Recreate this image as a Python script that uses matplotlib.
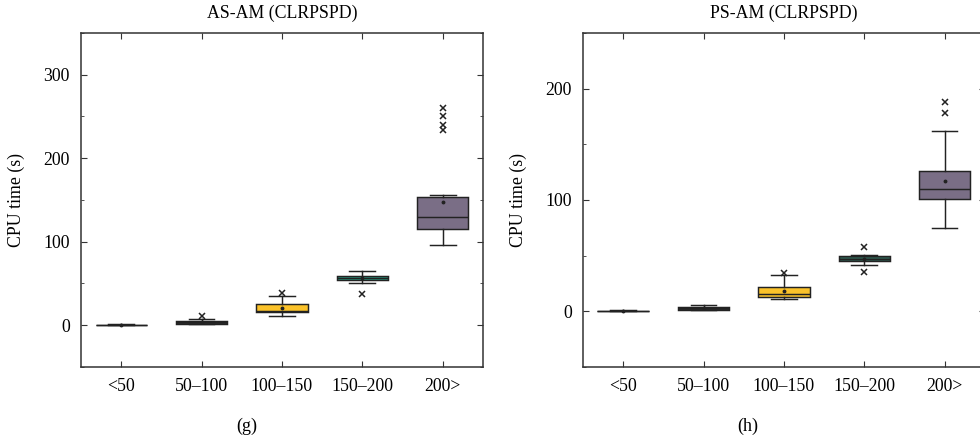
import numpy as np
import matplotlib.pyplot as plt
from matplotlib.ticker import MultipleLocator

plt.rcParams['font.family'] = ['Liberation Serif', 'DejaVu Serif']
plt.rcParams['font.size'] = 12.8

# Size classes.
categories = ['<50', '50\u2013100', '100\u2013150', '150\u2013200', '200>']

# AS-AM (CLRPSPD) box statistics.
g_med = [0.3, 3.5, 17.0, 56.0, 130.0]
g_q1 = [0.0, 2.0, 15.3, 53.8, 115.0]
g_q3 = [0.6, 4.8, 25.0, 58.5, 154.0]
g_lo = [0.0, 1.0, 11.0, 50.0, 96.0]
g_hi = [1.0, 7.0, 35.5, 65.0, 155.5]
g_mean = [0.3, 3.5, 21.0, 56.0, 148.0]
g_fliers = [[], [10.5], [38.5], [37.0], [234.0, 240.0, 250.0, 260.0]]

# PS-AM (CLRPSPD) box statistics.
h_med = [0.3, 3.0, 15.6, 47.0, 110.0]
h_q1 = [0.0, 1.5, 13.3, 45.0, 100.5]
h_q3 = [0.6, 4.0, 21.4, 49.4, 126.0]
h_lo = [0.0, 1.0, 10.8, 42.0, 75.0]
h_hi = [1.0, 6.0, 32.5, 51.0, 162.0]
h_mean = [0.3, 3.0, 18.0, 47.0, 117.0]
h_fliers = [[], [], [34.0], [35.5, 57.5], [178.0, 188.0]]

g_colors = ['#2b2b2b', '#2b2b2b', '#fbc22a', '#2a9a80', '#7a6e86']
h_colors = ['#2b2b2b', '#2b2b2b', '#fbc22a', '#2f5c50', '#7a6e86']


def make_stats(med, q1, q3, lo, hi, mean, fliers):
    stats = []
    for i in range(len(med)):
        stats.append({'med': med[i], 'q1': q1[i], 'q3': q3[i],
                      'whislo': lo[i], 'whishi': hi[i], 'mean': mean[i],
                      'fliers': np.array(fliers[i])})
    return stats


def draw_panel(ax, stats, colors, title, ylim):
    edge = '#222222'
    lw = 1.05
    bp = ax.bxp(stats, positions=range(1, 6), widths=0.64, capwidths=0.32,
                patch_artist=True, showmeans=True,
                boxprops=dict(edgecolor=edge, linewidth=lw),
                medianprops=dict(color=edge, linewidth=lw),
                whiskerprops=dict(color=edge, linewidth=lw),
                capprops=dict(color=edge, linewidth=lw),
                meanprops=dict(marker='o', markersize=1.8, markerfacecolor=edge,
                               markeredgecolor=edge),
                flierprops=dict(marker='x', markersize=5, markeredgecolor=edge,
                                markeredgewidth=1.1))
    for patch, c in zip(bp['boxes'], colors):
        patch.set_facecolor(c)
    ax.set_xlim(0.5, 5.5)
    ax.set_ylim(*ylim)
    ax.set_xticks(range(1, 6))
    ax.set_xticklabels(categories)
    ax.yaxis.set_major_locator(MultipleLocator(100))
    ax.yaxis.set_minor_locator(MultipleLocator(50))
    ax.tick_params(which='both', direction='in', top=True, right=True,
                   color='#333333')
    ax.tick_params(which='major', length=4, pad=8)
    ax.tick_params(which='minor', length=2.5)
    ax.tick_params(axis='x', which='minor', bottom=False, top=False)
    for s in ax.spines.values():
        s.set_linewidth(1.1)
        s.set_color('#333333')
    ax.set_title(title, fontsize=12.8, pad=11)
    ax.set_ylabel('CPU time (s)', fontsize=12.8, labelpad=13)


fig = plt.figure(figsize=(9.8, 4.45), dpi=100)
ax1 = fig.add_axes([0.0827, 0.1753, 0.410, 0.7506])
ax2 = fig.add_axes([0.5949, 0.1753, 0.410, 0.7506])

draw_panel(ax1, make_stats(g_med, g_q1, g_q3, g_lo, g_hi, g_mean, g_fliers),
           g_colors, 'AS-AM (CLRPSPD)', (-50, 350))
draw_panel(ax2, make_stats(h_med, h_q1, h_q3, h_lo, h_hi, h_mean, h_fliers),
           h_colors, 'PS-AM (CLRPSPD)', (-50, 250))

fig.text(247 / 980, 1 - 426 / 445, '(g)', ha='center', va='center', fontsize=13)
fig.text(748 / 980, 1 - 426 / 445, '(h)', ha='center', va='center', fontsize=13)

fig.savefig('out.png', dpi=100)
